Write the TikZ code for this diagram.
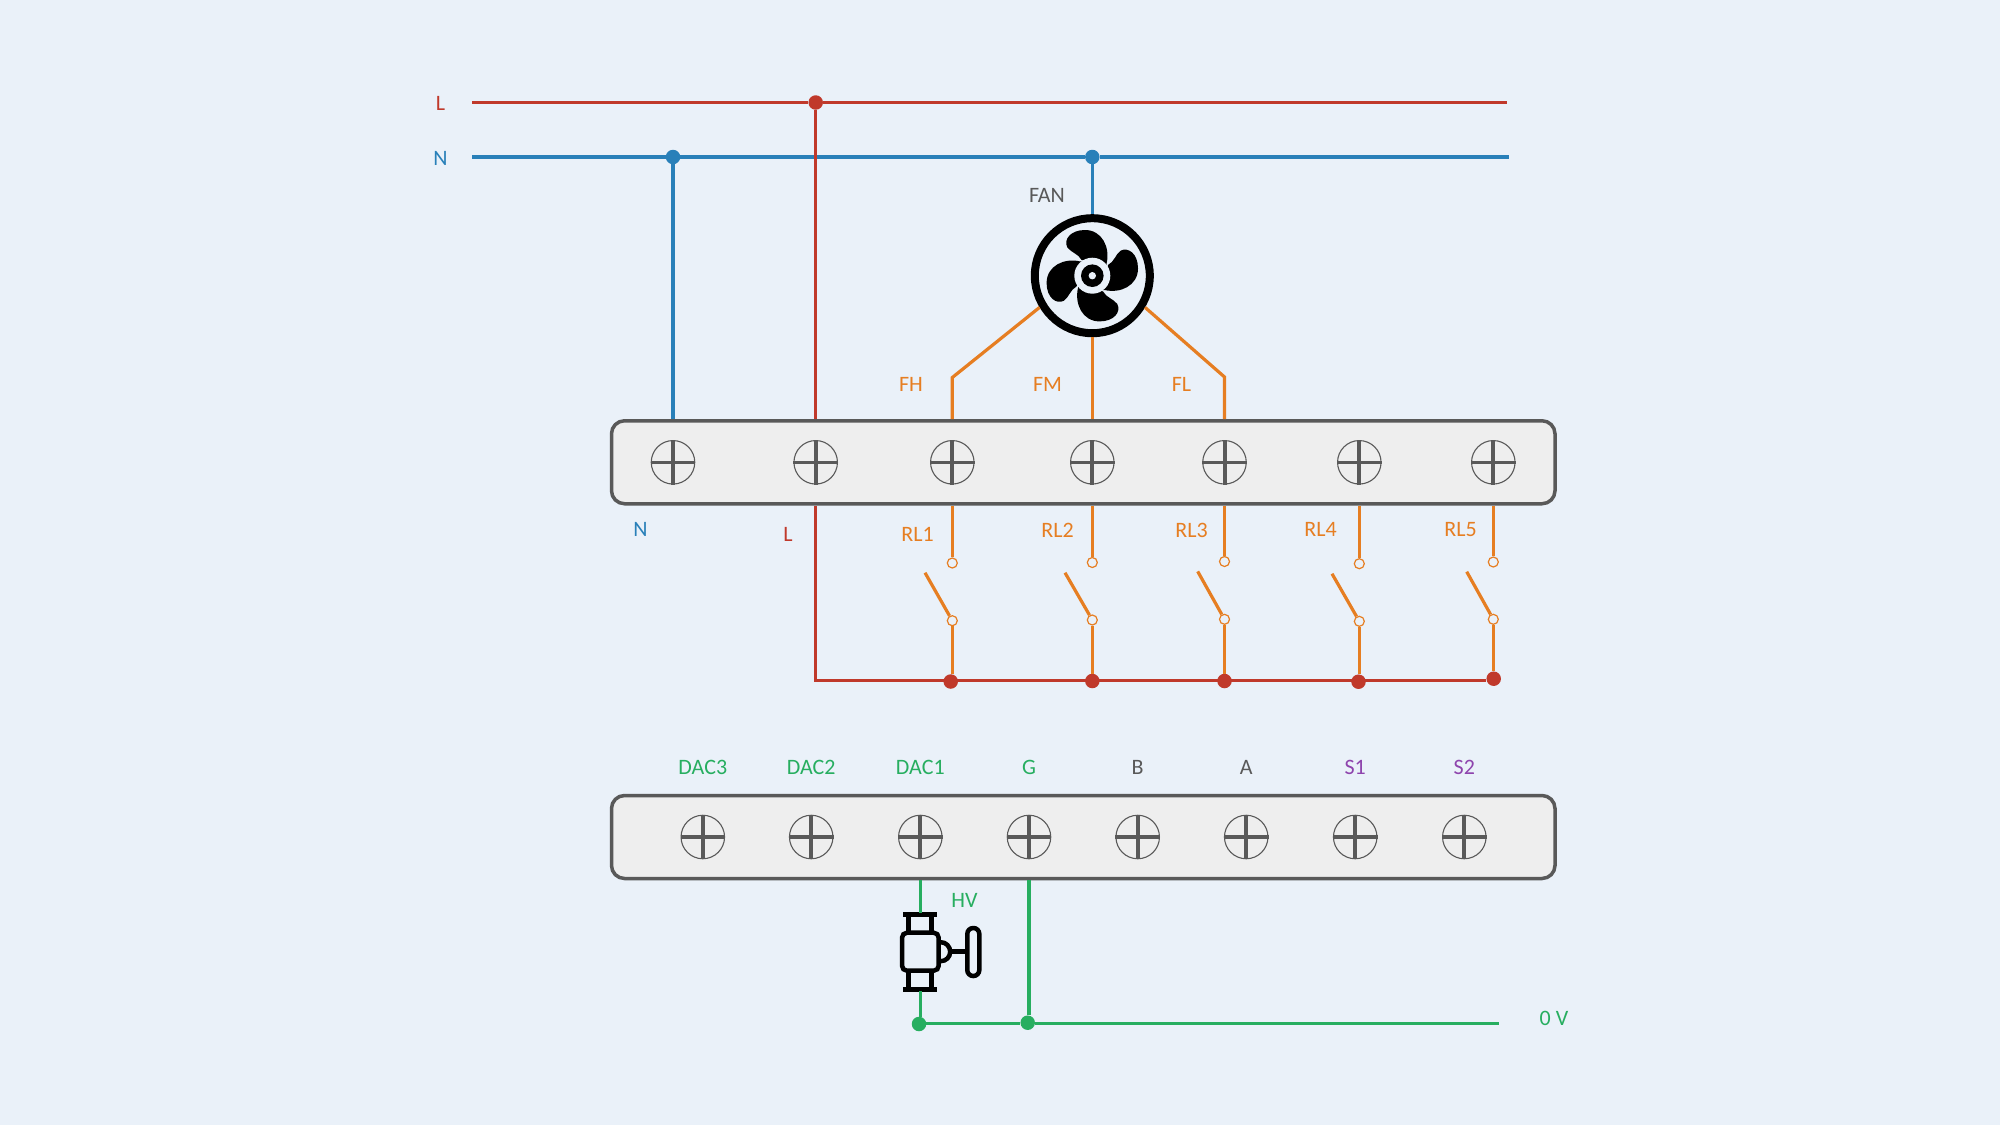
\documentclass[tikz,border=0pt]{standalone}
\usepackage{fontspec}
\setmainfont{Carlito}
\definecolor{pagebg}{HTML}{EAF1F9}
\definecolor{stripfill}{HTML}{EEEEEE}
\definecolor{stripgrey}{HTML}{595959}
\definecolor{wirered}{HTML}{C0392B}
\definecolor{wireblue}{HTML}{2980B9}
\definecolor{wireorange}{HTML}{E67E22}
\definecolor{wiregreen}{HTML}{27AE60}
\definecolor{wirepurple}{HTML}{8E44AD}
\tikzset{
	strip/.style={draw=stripgrey,fill=stripfill,line width=3.5pt,rounded corners=13pt,minimum width=943.5pt,minimum height=83pt,inner sep=0pt},
	screw/.style={circle,draw=stripgrey,line width=1.1pt,minimum size=43.5pt,inner sep=0pt},
	jdot/.style={circle,fill=#1,minimum size=14.5pt,inner sep=0pt},
	contact/.style={circle,draw=wireorange,fill=pagebg,line width=1.2pt,minimum size=10pt,inner sep=0pt},
	wire/.style={line width=3.2pt,#1},
	lab/.style={font=\fontsize{22}{24}\selectfont,text=#1,inner sep=0pt},
}
\begin{document}
\begin{tikzpicture}[x=1pt,y=-1pt]
\useasboundingbox (0,0) rectangle (2000,1125);
\fill[pagebg] (0,0) rectangle (2000,1125);
\node[strip] (topstrip) at (1083.25,462.25) {};
\node[strip] (botstrip) at (1083.25,837) {};
\foreach \name/\x in {tN/673,tL/815.7,tA/952.3,tB/1092.3,tC/1224.5,tD/1359.3,tE/1493.3}
{
	\node[screw] (\name) at (\x,462.3) {};
	\draw[stripgrey,line width=3.3pt] (\name.west)--(\name.east);
	\draw[stripgrey,line width=4pt] (\name.north)--(\name.south);
}
\foreach \name/\x/\txt/\col in {bA/702.8/DAC3/wiregreen,bB/811.2/DAC2/wiregreen,bC/920.3/DAC1/wiregreen,bD/1029/G/wiregreen,bE/1137.7/B/stripgrey,bF/1246.2/A/stripgrey,bG/1355.2/S1/wirepurple,bH/1464.3/S2/wirepurple}
{
	\node[screw] (\name) at (\x,837) {};
	\draw[stripgrey,line width=3.3pt] (\name.west)--(\name.east);
	\draw[stripgrey,line width=4pt] (\name.north)--(\name.south);
	\node[lab=\col] (lab\name) at (\x,767.5) {\txt};
}
% mains
\coordinate (Lstart) at (472,102.5);
\coordinate (Lend) at (1507,102.5);
\coordinate (Nstart) at (472,157);
\coordinate (Nend) at (1509,157);
\node[jdot=wirered] (Ldot) at (815.7,102.5) {};
\node[jdot=wireblue] (Ndot) at (673,157) {};
\node[jdot=wireblue] (Fdot) at (1092.3,157) {};
\draw[wirered,line width=2.6pt] (Lstart)--(Ldot) (Ldot)--(Lend);
\draw[wire=wireblue] (Nstart)--(Ndot) (Ndot)--(Fdot) (Fdot)--(Nend);
\draw[wire=wireblue] (Ndot)--(tN|-topstrip.north);
\draw[wire=wirered] (Ldot)--(tL|-topstrip.north);
\node[lab=wirered] (labL) at (440.5,103.5) {L};
\node[lab=wireblue] (labN) at (440.5,158.5) {N};
% fan
\node[circle,draw=black,line width=8pt,minimum size=115pt,inner sep=0pt] (fan) at (1092.3,275.7) {};
\begin{scope}[shift={(1092.3,275.7)}]
\foreach \a in {0,90,180,270}
	\fill[rotate=\a] (14.3,-10)--(14.3,-12.3) .. controls (18,-28) and (10,-45.7) .. (-7.3,-45.7) .. controls (-22,-45.7) and (-29,-36) .. (-25,-28.3) .. controls (-21,-23) and (-14,-22) .. (-10.7,-15.7)--cycle;
\fill[pagebg] (0,0) circle[radius=18];
\fill[black] (0,0) circle[radius=11.3];
\fill[pagebg] (0,0) circle[radius=3.7];
\end{scope}
\node[lab=stripgrey] (labfan) at (1047,195.5) {FAN};
\coordinate (FHbend) at (952.3,377.5);
\coordinate (FLbend) at (1224.5,377);
\draw[wire=wireblue] (Fdot)--(fan.north);
\draw[wire=wireorange] (fan.211)--(FHbend)--(tA|-topstrip.north);
\draw[wire=wireorange] (fan.south)--(tB|-topstrip.north);
\draw[wire=wireorange] (fan.329)--(FLbend)--(tC|-topstrip.north);
\node[lab=wireorange] (labFH) at (911,384.5) {FH};
\node[lab=wireorange] (labFM) at (1047.5,384.5) {FM};
\node[lab=wireorange] (labFL) at (1181.5,384.5) {FL};
\node[lab=wireblue] (labtN) at (640.5,529.5) {N};
\node[lab=wirered] (labtL) at (788,534.5) {L};
% relays
\foreach \name/\scr/\x/\up/\lo/\armx/\army/\dotx/\doty in {
	RLa/tA/952.3/563/620.7/925/572.7/950.7/681.5,
	RLb/tB/1092.3/562.5/620/1065/572.7/1092.3/681,
	RLc/tC/1224.5/561.5/619.3/1197.7/571.4/1224.5/681,
	RLd/tD/1359.3/563.7/621.3/1332/573.7/1358.5/681.7,
	RLe/tE/1493.3/562/619.3/1466.7/571.7/1493.7/678.7}
{
	\node[contact] (\name up) at (\x,\up) {};
	\node[contact] (\name lo) at (\x,\lo) {};
	\node[jdot=wirered] (\name dot) at (\dotx,\doty) {};
	\coordinate (\name arm) at (\armx,\army);
	\draw[wire=wireorange] (\scr|-topstrip.south)--(\name up);
	\draw[wire=wireorange] (\name lo)--(\name arm);
	\draw[wire=wireorange] (\name lo)--(\name lo|-\name dot.north);
}
\node[lab=wireorange] (labRLa) at (917.5,534.5) {RL1};
\node[lab=wireorange] (labRLb) at (1057.5,530.5) {RL2};
\node[lab=wireorange] (labRLc) at (1191.5,530.5) {RL3};
\node[lab=wireorange] (labRLd) at (1320.5,529.5) {RL4};
\node[lab=wireorange] (labRLe) at (1460.5,529.5) {RL5};
\coordinate (Lcorner) at (814,680.3);
\draw[wire=wirered] (tL|-topstrip.south)--(tL|-Lcorner);
\draw[wire=wirered] (Lcorner)--(RLedot.west|-Lcorner);
% valve
\begin{scope}[line width=4.5pt,black]
\draw[rounded corners=5pt] (902,932.7) rectangle (938.7,970.7);
\draw[line width=5.5pt] (903.3,914.3)--(937.3,914.3) (903.3,989.3)--(937.3,989.3);
\draw (908.7,914.3)--(908.7,932.7) (931.3,914.3)--(931.3,932.7);
\draw (908.7,970.7)--(908.7,989.3) (931.3,970.7)--(931.3,989.3);
\draw (940.7,942.2) arc[start angle=-90,end angle=90,radius=9.5];
\draw (950.2,951.7)--(967.3,951.7);
\draw[rounded corners=5.9pt] (967.3,928) rectangle (979.3,976);
\end{scope}
\coordinate (HVtop) at (920.3,912.7);
\coordinate (HVbot) at (920.3,991);
\node[lab=wiregreen] (labHV) at (964.5,900.5) {HV};
\node[jdot=wiregreen] (Gdota) at (919,1024) {};
\node[jdot=wiregreen] (Gdotb) at (1027.7,1022.7) {};
\coordinate (Gend) at (1498.7,1023.3);
\draw[wire=wiregreen] (bC|-botstrip.south)--(HVtop);
\draw[wire=wiregreen] (HVbot)--(HVbot|-Gdota.north);
\draw[wire=wiregreen] (bD|-botstrip.south)--(bD|-Gdotb.north);
\draw[wire=wiregreen] (Gdota.east|-Gend)--(Gdotb.west|-Gend);
\draw[wire=wiregreen] (Gdotb.east|-Gend)--(Gend);
\node[lab=wiregreen] (lab0V) at (1554,1018.5) {0 V};
\end{tikzpicture}
\end{document}
